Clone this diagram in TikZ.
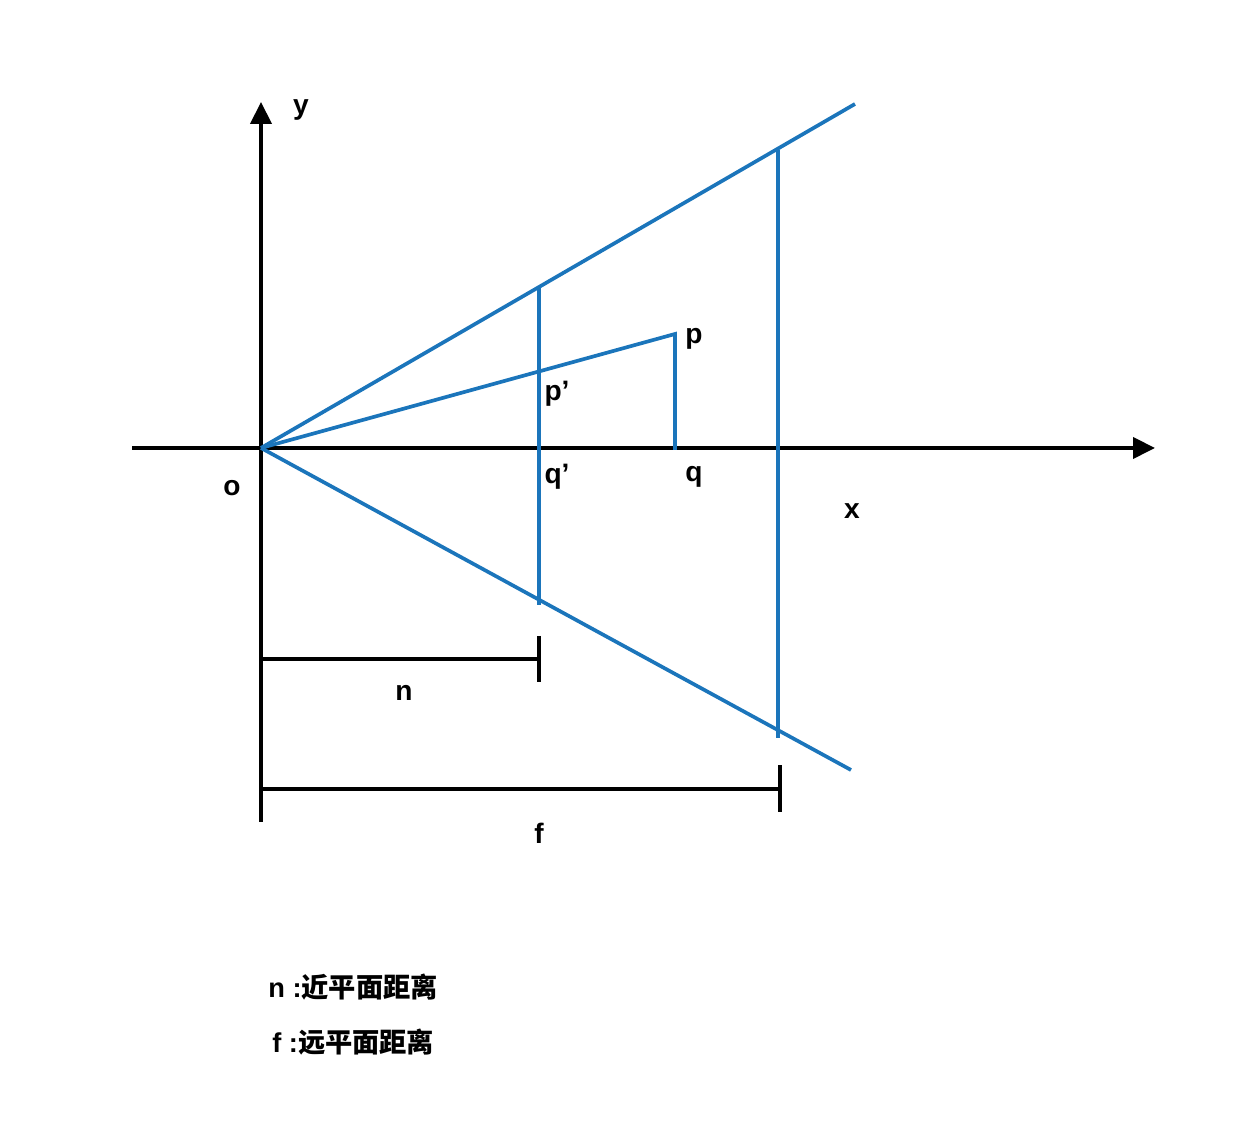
\documentclass[tikz,border=0pt]{standalone}
\usepackage{fontspec}
\setmainfont{Liberation Sans}
\newfontfamily\cjk{Noto Sans CJK SC}
\usetikzlibrary{arrows.meta,positioning}
\definecolor{frustum}{HTML}{1B75BB}
\definecolor{axisblack}{HTML}{000000}
\tikzset{
  axisline/.style={
    -{Triangle[length=0.44cm, width=0.42cm]}, line width=2.3pt, color=axisblack
  },
  dimline/.style={line width=2.3pt, color=axisblack},
  viewline/.style={line width=2.1pt, color=frustum},
  ptlabel/.style={font=\fontsize{16}{19}\selectfont\bfseries, inner sep=0pt},
  notetext/.style={font=\fontsize{15.5}{19}\selectfont\bfseries, anchor=west, inner sep=0pt},
}

\begin{document}
\begin{tikzpicture}[x=0.02cm, y=0.02cm]
  \useasboundingbox (0,0) rectangle (1244,1124);
  % axes
  \coordinate (o) at (261,676);
  \coordinate (ytop) at (261,1022);
  \coordinate (ybot) at (261,302);
  \coordinate (xleft) at (132,676);
  \coordinate (xright) at (1155,676);
  \draw[axisline] (ybot) -- (ytop);
  \draw[axisline] (xleft) -- (xright);

  % frustum edges and planes
  \coordinate (edgeup) at (855,1020);
  \coordinate (edgedown) at (851,354);
  \coordinate (neartop) at (539,837);
  \coordinate (nearbot) at (539,519);
  \coordinate (fartop) at (778,974);
  \coordinate (farbot) at (778,386);
  \coordinate (p) at (675,790);
  \coordinate (q) at (675,674);
  \draw[viewline] (o) -- (edgeup);
  \draw[viewline] (o) -- (edgedown);
  \draw[viewline] (neartop) -- (nearbot);
  \draw[viewline] (fartop) -- (farbot);
  \draw[viewline] (o) -- (p) -- (q);

  % distances n and f
  \coordinate (nleft) at (261,465);
  \coordinate (nright) at (539,465);
  \coordinate (fleft) at (261,335);
  \coordinate (fright) at (780,335);
  \draw[dimline] (nleft) -- (nright);
  \draw[dimline] ([yshift=0.46cm]nright) -- ([yshift=-0.46cm]nright);
  \draw[dimline] (fleft) -- (fright);
  \draw[dimline] ([yshift=0.47cm]fright) -- ([yshift=-0.47cm]fright);

  % labels
  \node[ptlabel] (ylabel) at (301,1014) {y};
  \node[ptlabel] (xlabel) at (852,613) {x};
  \node[ptlabel] (olabel) at (232,636) {o};
  \node[ptlabel] (plabel) at (694,785) {p};
  \node[ptlabel] (pplabel) at (557,730) {p’};
  \node[ptlabel] (qqlabel) at (557,647) {q’};
  \node[ptlabel] (qlabel) at (694,647) {q};
  \node[ptlabel] (nlabel) at (404,431) {n};
  \node[ptlabel] (flabel) at (539,291) {f};

  % notes
  \node[notetext] (nnote) at (268,137) {n :{\cjk 近平面距离}};
  \node[notetext] (fnote) at (272,82) {f :{\cjk 远平面距离}};
\end{tikzpicture}
\end{document}
